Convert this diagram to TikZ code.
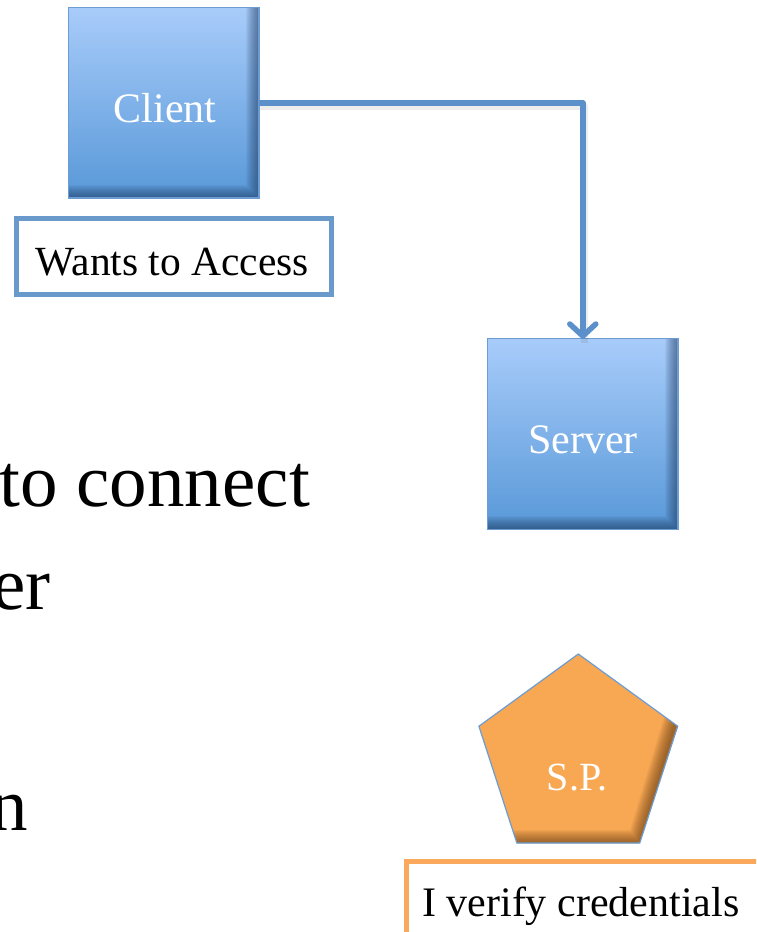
\documentclass[tikz,border=0pt]{standalone}
\usepackage{fontspec}
\setmainfont{Liberation Serif}
\usetikzlibrary{arrows.meta,shapes.geometric}

\definecolor{boxtop}{HTML}{A8CCFA}
\definecolor{boxbot}{HTML}{5898D8}
\definecolor{boxedge}{HTML}{6C9CD2}
\definecolor{boxshade}{HTML}{1F3A5F}
\definecolor{linkblue}{HTML}{5B90CA}
\definecolor{noteblue}{HTML}{6A9ACC}
\definecolor{spfill}{HTML}{F8A853}
\definecolor{spshade}{HTML}{5E3810}
\definecolor{noteorange}{HTML}{F9A85C}

\tikzset{
  bluebox/.style={rectangle, minimum width=190.5pt, minimum height=190.5pt,
    inner sep=0pt, outer sep=0pt, top color=boxtop, bottom color=boxbot},
  boxlabel/.style={text=white, font=\fontsize{42}{50}\selectfont, inner sep=0pt, anchor=base},
  notelabel/.style={text=black, font=\fontsize{41.5}{50}\selectfont, inner sep=0pt, anchor=base},
  bigtext/.style={text=black, font=\fontsize{75}{90}\selectfont, inner sep=0pt, anchor=base east},
  thinedge/.style={draw=boxedge, line width=1.4pt},
  link/.style={draw=linkblue, line width=5.5pt, line join=round,
    -{Straight Barb[length=12pt,width=26pt,round]}},
  linkshadow/.style={draw=black, line width=7pt, opacity=0.07, line join=round}
}

% soft inner shadow along the given edge path, kept inside the clip
\newcommand{\edgeshade}[2]{%
  \foreach \w in {2,4,...,26}
    \draw[line width=\w pt, draw=#1, opacity=0.06, line join=miter] #2;
}

\begin{document}
\begin{tikzpicture}[x=1pt, y=-1pt]
  \useasboundingbox (0,0) rectangle (756,932);
  \clip (0,0) rectangle (756,932);
  \fill[white] (0,0) rectangle (756,932);

  % partly visible slide text on the left
  \node[bigtext] (line1) at (310,506) {to connect};
  \node[bigtext] (line2) at (51,609) {er};
  \node[bigtext] (line3) at (28,830) {n};

  % client box
  \node[bluebox] (client) at (163.8,102.8) {};
  \begin{scope}
    \clip (client.north west) rectangle (client.south east);
    \edgeshade{boxshade}{(client.north east) -- (client.south east) -- (client.south west)}
  \end{scope}
  \draw[thinedge] (client.north west) rectangle (client.south east);
  \node[boxlabel] (clientlbl) at (165,122) {Client};

  % note under the client
  \node[draw=noteblue, line width=5pt, fill=white, rectangle, inner sep=0pt,
        minimum width=315pt, minimum height=76pt] (wants) at (173.5,256.5) {};
  \node[notelabel] (wantslbl) at (172.5,275) {Wants to Access};

  % server box
  \node[bluebox] (server) at (582.8,434) {};
  \begin{scope}
    \clip (server.north west) rectangle (server.south east);
    \edgeshade{boxshade}{(server.north east) -- (server.south east) -- (server.south west)}
  \end{scope}
  \draw[thinedge] (server.north west) rectangle (server.south east);
  \node[boxlabel] (serverlbl) at (583,453) {Server};

  % connector client -> server
  \draw[linkshadow] ([xshift=1pt,yshift=-4pt]client.east) -| ([xshift=2pt,yshift=-4pt]server.north);
  \draw[link] (client.east) -| (server.north);

  % S.P. pentagon
  \node[regular polygon, regular polygon sides=5, minimum size=209pt,
        inner sep=0pt, outer sep=0pt, fill=spfill] (sp) at (578.3,758.5) {};
  \begin{scope}
    \clip (sp.corner 1) -- (sp.corner 2) -- (sp.corner 3) -- (sp.corner 4) -- (sp.corner 5) -- cycle;
    \edgeshade{spshade}{([yshift=10pt]sp.corner 5) -- (sp.corner 4) -- ([xshift=-10pt]sp.corner 3)}
  \end{scope}
  \draw[thinedge, line width=1.2pt, line join=miter]
    (sp.corner 1) -- (sp.corner 2) -- (sp.corner 3) -- (sp.corner 4) -- (sp.corner 5) -- cycle;
  \node[boxlabel, font=\fontsize{40}{48}\selectfont] (splbl) at (577,790) {S.P.};

  % note under the pentagon, running off the edge
  \node[draw=noteorange, line width=5pt, fill=white, rectangle, inner sep=0pt,
        minimum width=400pt, minimum height=120pt, anchor=north west] (verify) at (404,859) {};
  \node[notelabel, font=\fontsize{42}{50}\selectfont, anchor=base west] (verifylbl) at (422,916) {I verify credentials};
\end{tikzpicture}
\end{document}
